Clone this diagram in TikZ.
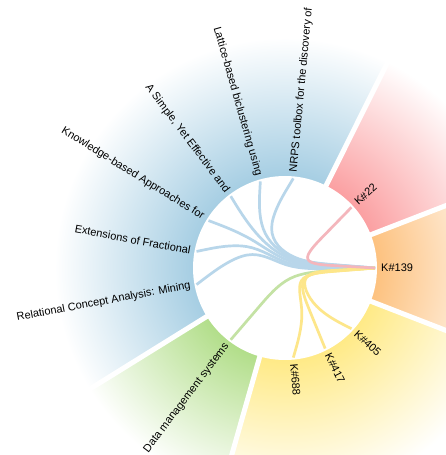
\documentclass[tikz,border=0pt]{standalone}
\usepackage{fontspec}
\setmainfont{Liberation Sans}
\usetikzlibrary{calc}

\definecolor{cblue}{RGB}{166,206,227}
\definecolor{cpink}{RGB}{251,160,162}
\definecolor{corange}{RGB}{253,194,128}
\definecolor{cyellow}{RGB}{255,234,135}
\definecolor{cgreen}{RGB}{178,222,138}
\definecolor{lblue}{RGB}{184,214,234}
\definecolor{lpink}{RGB}{244,182,188}
\definecolor{lgreen}{RGB}{196,226,164}
\definecolor{lyellow}{RGB}{253,230,138}

\pgfdeclareradialshading{fadeblue}{\pgfpointorigin}{color(0bp)=(cblue); color(9.6bp)=(cblue); color(24bp)=(white); color(50bp)=(white)}
\pgfdeclareradialshading{fadepink}{\pgfpointorigin}{color(0bp)=(cpink); color(9.6bp)=(cpink); color(24bp)=(white); color(50bp)=(white)}
\pgfdeclareradialshading{fadeorange}{\pgfpointorigin}{color(0bp)=(corange); color(9.6bp)=(corange); color(24bp)=(white); color(50bp)=(white)}
\pgfdeclareradialshading{fadeyellow}{\pgfpointorigin}{color(0bp)=(cyellow); color(9.6bp)=(cyellow); color(24bp)=(white); color(50bp)=(white)}
\pgfdeclareradialshading{fadegreen}{\pgfpointorigin}{color(0bp)=(cgreen); color(9.6bp)=(cgreen); color(24bp)=(white); color(50bp)=(white)}

% bundled link: colour, leaf, leaf group, target group, target
\newcommand{\bundle}[5]{%
  \coordinate (m1) at ($(#2)!0.25!(#5)$);
  \coordinate (m2) at ($(#2)!0.5!(#5)$);
  \coordinate (m3) at ($(#2)!0.75!(#5)$);
  \coordinate (q1) at ($(m1)!0.85!(#3)$);
  \coordinate (q2) at ($(m2)!0.85!(O)$);
  \coordinate (q3) at ($(m3)!0.85!(#4)$);
  \draw[link, #1] (#2) -- ($(#2)!0.16667!(q1)$)
    .. controls ($(#2)!0.33333!(q1)$) and ($(#2)!0.66667!(q1)$) .. ($0.16667*(#2)+0.66667*(q1)+0.16667*(q2)$)
    .. controls ($(q1)!0.33333!(q2)$) and ($(q1)!0.66667!(q2)$) .. ($0.16667*(q1)+0.66667*(q2)+0.16667*(q3)$)
    .. controls ($(q2)!0.33333!(q3)$) and ($(q2)!0.66667!(q3)$) .. ($0.16667*(q2)+0.66667*(q3)+0.16667*(#5)$)
    .. controls ($(q3)!0.33333!(#5)$) and ($(q3)!0.66667!(#5)$) .. ($(#5)!0.16667!(q3)$) -- (#5);
}

\begin{document}
\begin{tikzpicture}[x=1pt, y=1pt, font=\fontsize{11}{13}\selectfont,
    lbl/.style={inner sep=0pt},
    link/.style={line width=2.7pt}]
    \useasboundingbox (-285,-187) rectangle (160,268);
    \coordinate (O) at (0,0);

    % sectors
    \begin{scope} \clip (O) -- (-21.2:250) arc[start angle=-21.2, end angle=21.2, radius=250] -- cycle; \shade[shading=fadeorange] (O) circle (240); \end{scope}
    \begin{scope} \clip (O) -- (21.2:250) arc[start angle=21.2, end angle=63.5, radius=250] -- cycle; \shade[shading=fadepink] (O) circle (240); \end{scope}
    \begin{scope} \clip (O) -- (63.5:250) arc[start angle=63.5, end angle=211.8, radius=250] -- cycle; \shade[shading=fadeblue] (O) circle (240); \end{scope}
    \begin{scope} \clip (O) -- (211.8:250) arc[start angle=211.8, end angle=254.1, radius=250] -- cycle; \shade[shading=fadegreen] (O) circle (240); \end{scope}
    \begin{scope} \clip (O) -- (254.1:250) arc[start angle=254.1, end angle=338.8, radius=250] -- cycle; \shade[shading=fadeyellow] (O) circle (240); \end{scope}
    \fill[white] (O) circle (92);
    \draw[white, line width=5pt] (O) -- (21.2:250);
    \draw[white, line width=5pt] (O) -- (63.5:250);
    \draw[white, line width=5pt] (O) -- (211.8:250);
    \draw[white, line width=5pt] (O) -- (254.1:250);
    \draw[white, line width=5pt] (O) -- (338.8:250);

    % group points
    \coordinate (g-blue) at (137.65:45);
    \coordinate (g-pink) at (42.35:45);
    \coordinate (g-orange) at (0:45);
    \coordinate (g-green) at (232.94:45);
    \coordinate (g-yellow) at (-63.53:45);

    % leaf points
    \coordinate (p-nrps) at (84.7:90);
    \coordinate (p-lattice) at (105.9:90);
    \coordinate (p-simple) at (127.1:90);
    \coordinate (p-knowledge) at (148.2:90);
    \coordinate (p-fractional) at (169.4:90);
    \coordinate (p-rca) at (190.6:90);
    \coordinate (p-dms) at (232.9:90);
    \coordinate (p-k688) at (-84.7:90);
    \coordinate (p-k417) at (-63.5:90);
    \coordinate (p-k405) at (-42.4:90);
    \coordinate (p-k139) at (0:90);
    \coordinate (p-k22) at (42.4:90);

    % links
    \bundle{lblue}{p-nrps}{g-blue}{g-orange}{p-k139}
    \bundle{lblue}{p-lattice}{g-blue}{g-orange}{p-k139}
    \bundle{lblue}{p-simple}{g-blue}{g-orange}{p-k139}
    \bundle{lblue}{p-knowledge}{g-blue}{g-orange}{p-k139}
    \bundle{lblue}{p-fractional}{g-blue}{g-orange}{p-k139}
    \bundle{lblue}{p-rca}{g-blue}{g-orange}{p-k139}
    \bundle{lgreen}{p-dms}{g-green}{g-orange}{p-k139}
    \bundle{lyellow}{p-k688}{g-yellow}{g-orange}{p-k139}
    \bundle{lyellow}{p-k417}{g-yellow}{g-orange}{p-k139}
    \bundle{lyellow}{p-k405}{g-yellow}{g-orange}{p-k139}
    \bundle{lpink}{p-k22}{g-pink}{g-orange}{p-k139}

    % labels
    \node[lbl, anchor=west, rotate=84.7] (nrps) at (84.7:96) {NRPS toolbox for the discovery of};
    \node[lbl, anchor=east, rotate=-74.1] (lattice) at (105.9:96) {Lattice-based biclustering using};
    \node[lbl, anchor=east, rotate=-52.9] (simple) at (127.1:96) {A Simple, Yet Effective and};
    \node[lbl, anchor=east, rotate=-31.8] (knowledge) at (148.2:96) {Knowledge-based Approaches for};
    \node[lbl, anchor=east, rotate=-10.6] (fractional) at (169.4:96) {Extensions of Fractional};
    \node[lbl, anchor=east, rotate=10.6] (rca) at (190.6:96) {Relational Concept Analysis: Mining};
    \node[lbl, anchor=east, rotate=52.9] (dms) at (232.9:96) {Data management systems};
    \node[lbl, anchor=west, rotate=-84.7] (k688) at (-84.7:96) {K\#688};
    \node[lbl, anchor=west, rotate=-63.5] (k417) at (-63.5:96) {K\#417};
    \node[lbl, anchor=west, rotate=-42.4] (k405) at (-42.4:96) {K\#405};
    \node[lbl, anchor=west] (k139) at (0:96) {K\#139};
    \node[lbl, anchor=west, rotate=42.4] (k22) at (42.4:96) {K\#22};
\end{tikzpicture}
\end{document}
